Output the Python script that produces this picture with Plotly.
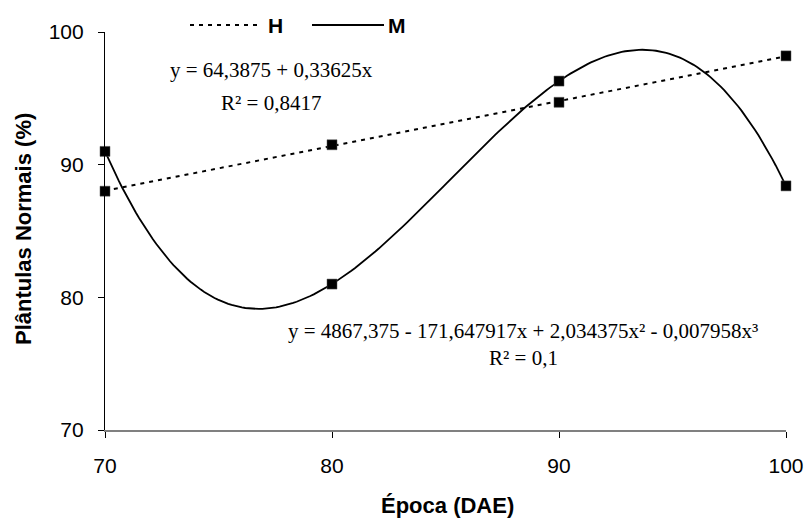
import numpy as np
import plotly.graph_objects as go

# Data
epoca = [70, 80, 90, 100]
h_vals = [88.0, 91.5, 94.7, 98.2]
m_vals = [91.0, 81.0, 96.3, 88.4]
x_ticks = [70, 80, 90, 100]
y_ticks = [70, 80, 90, 100]
eq_h = "y = 64,3875 + 0,33625x"
r2_h = "R² = 0,8417"
eq_m = "y = 4867,375 - 171,647917x + 2,034375x² - 0,007958x³"
r2_m = "R² = 0,1"

# Regression trendlines fitted from the data (as in the original chart)
xs = np.linspace(min(epoca), max(epoca), 200)
coef_h = np.polyfit(epoca, h_vals, 1)
coef_m = np.polyfit(epoca, m_vals, 3)
trend_h = np.polyval(coef_h, xs)
trend_m = np.polyval(coef_m, xs)

fig = go.Figure()
fig.add_trace(go.Scatter(x=xs, y=trend_h, mode="lines",
                         line=dict(color="black", width=2, dash="4px,5px"),
                         showlegend=False, hoverinfo="skip"))
fig.add_trace(go.Scatter(x=xs, y=trend_m, mode="lines",
                         line=dict(color="black", width=1.8),
                         showlegend=False, hoverinfo="skip"))
fig.add_trace(go.Scatter(x=epoca, y=h_vals, mode="markers", name="H",
                         marker=dict(symbol="square", size=10, color="black",
                                     line=dict(color="#555", width=0.5)),
                         showlegend=False, cliponaxis=False))
fig.add_trace(go.Scatter(x=epoca, y=m_vals, mode="markers", name="M",
                         marker=dict(symbol="square", size=10, color="black",
                                     line=dict(color="#555", width=0.5)),
                         showlegend=False, cliponaxis=False))

W, H = 808, 519
L, R, T, B = 105, 22, 32, 89
pw, ph = W - L - R, H - T - B

def px(xp):
    return (xp - L) / pw

def py(yp):
    return (H - B - yp) / ph

# Manual legend
fig.add_shape(type="line", xref="paper", yref="paper",
              x0=px(190), x1=px(258), y0=py(25), y1=py(25),
              line=dict(color="black", width=2, dash="4px,5px"))
fig.add_shape(type="line", xref="paper", yref="paper",
              x0=px(312), x1=px(384), y0=py(25), y1=py(25),
              line=dict(color="black", width=1.8))
legend_font = dict(family="Liberation Sans, Arial", size=21, color="black")
fig.add_annotation(text="<b>H</b>", xref="paper", yref="paper", x=px(266), y=py(25),
                   xanchor="left", yanchor="middle", showarrow=False, font=legend_font)
fig.add_annotation(text="<b>M</b>", xref="paper", yref="paper", x=px(386), y=py(25),
                   xanchor="left", yanchor="middle", showarrow=False, font=legend_font)

eq_font = dict(family="Liberation Serif, Times New Roman", size=21, color="black")
fig.add_annotation(text=eq_h, xref="paper", yref="paper", x=px(271), y=py(70),
                   xanchor="center", yanchor="middle", showarrow=False, font=eq_font)
fig.add_annotation(text=r2_h, xref="paper", yref="paper", x=px(271), y=py(103),
                   xanchor="center", yanchor="middle", showarrow=False, font=eq_font)
fig.add_annotation(text=eq_m, xref="paper", yref="paper", x=px(523), y=py(331),
                   xanchor="center", yanchor="middle", showarrow=False, font=eq_font)
fig.add_annotation(text=r2_m, xref="paper", yref="paper", x=px(523), y=py(358),
                   xanchor="center", yanchor="middle", showarrow=False, font=eq_font)

title_font = dict(family="Liberation Sans, Arial", size=22, color="black")
fig.add_annotation(text="<b>Plântulas Normais (%)</b>", xref="paper", yref="paper",
                   x=px(23), y=py(229), textangle=-90, xanchor="center", yanchor="middle",
                   showarrow=False, font=title_font)
fig.add_annotation(text="<b>Época (DAE)</b>", xref="paper", yref="paper",
                   x=px(447), y=py(505), xanchor="center", yanchor="middle",
                   showarrow=False, font=title_font)

tick_font = dict(family="Liberation Sans, Arial", size=21, color="black")
fig.update_xaxes(range=[70, 100], tickvals=x_ticks, ticktext=[str(v) for v in x_ticks],
                 showgrid=False, zeroline=False, showline=True, linecolor="#808080",
                 linewidth=1.5, ticks="outside", ticklen=6, tickcolor="black",
                 tickfont=tick_font, ticklabelstandoff=10, automargin=False)
fig.update_yaxes(range=[70, 100], tickvals=y_ticks, ticktext=[str(v) for v in y_ticks],
                 showgrid=False, zeroline=False, showline=True, linecolor="black",
                 linewidth=1.2, ticks="outside", ticklen=6, tickcolor="black",
                 tickfont=tick_font, ticklabelstandoff=10, automargin=False)

fig.update_layout(width=W, height=H, margin=dict(l=L, r=R, t=T, b=B, autoexpand=False),
                  plot_bgcolor="white", paper_bgcolor="white", showlegend=False)

fig.write_html("out.html")
